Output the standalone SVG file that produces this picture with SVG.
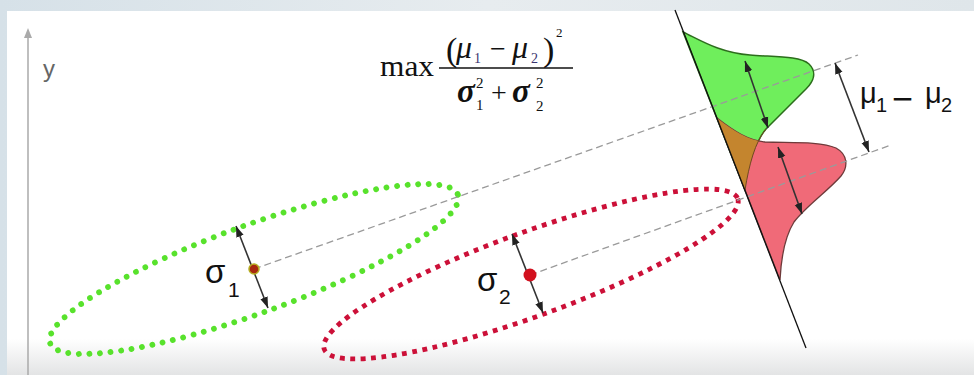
<svg xmlns="http://www.w3.org/2000/svg" width="974" height="375" viewBox="0 0 974 375">
<defs>
  <linearGradient id="panelGrad" x1="0" y1="0" x2="0" y2="1">
    <stop offset="0" stop-color="#ffffff"/>
    <stop offset="0.9" stop-color="#ffffff"/>
    <stop offset="1" stop-color="#e3e4e5"/>
  </linearGradient>
  <linearGradient id="bgGrad" x1="0" y1="0" x2="1" y2="0">
    <stop offset="0" stop-color="#d6e1e8"/>
    <stop offset="0.5" stop-color="#e7ecef"/>
    <stop offset="1" stop-color="#dfe6ea"/>
  </linearGradient>
  <marker id="ah" viewBox="0 0 10 10" refX="10" refY="5" markerWidth="11" markerHeight="11" orient="auto-start-reverse" markerUnits="userSpaceOnUse">
    <path d="M0,1.5 L10,5 L0,8.5 Z" fill="#222"/>
  </marker>
  <clipPath id="greenClip">
    <path d="M683,32 C700,40 720,53 750,55 C775,57 800,56 809,64 C817,72 814,81 806,89 L766,129 C755,142 749,165 745,190 Z"/>
  </clipPath>
</defs>
<style>
  .gdots{fill:none;stroke:#58e22c;stroke-width:5.8;stroke-linecap:round;stroke-dasharray:0 10.6}
  .rdots{fill:none;stroke:#cc1038;stroke-width:4.8;stroke-dasharray:4.8 5.6}
  .dash{stroke:#9a9a9a;stroke-width:1.3;stroke-dasharray:7 4;fill:none}
  .arr{stroke:#333;stroke-width:1.6;fill:none;marker-start:url(#ah);marker-end:url(#ah)}
  .serif{font-family:"Liberation Serif","Times New Roman",serif;fill:#111}
  .sans{font-family:"Liberation Sans",Arial,sans-serif;fill:#111}
</style>

<!-- background frame and panel -->
<rect x="0" y="0" width="974" height="375" fill="url(#bgGrad)"/>
<rect x="7" y="11" width="967" height="364" fill="url(#panelGrad)"/>

<!-- axis -->
<g id="axis">
  <line x1="28" y1="36" x2="28" y2="375" stroke="#aaaaaa" stroke-width="1.5"/>
  <path d="M28,28 L24,38 L32,38 Z" fill="#aaaaaa"/>
  <text class="sans" x="43" y="77" font-size="24" style="fill:#666666">y</text>
</g>

<!-- formula -->
<g id="formula">
  <text class="serif" x="380" y="76" font-size="30" textLength="54" lengthAdjust="spacingAndGlyphs">max</text>
  <text class="serif" x="446" y="61" font-size="34">(</text>
  <text class="serif" x="456" y="58" font-size="32" font-style="italic">μ</text>
  <text class="serif" x="474" y="63" font-size="14" style="fill:#3b3570">1</text>
  <text class="serif" x="490" y="58" font-size="28">−</text>
  <text class="serif" x="512" y="58" font-size="32" font-style="italic">μ</text>
  <text class="serif" x="531" y="63" font-size="14" style="fill:#3b3570">2</text>
  <text class="serif" x="543" y="61" font-size="34">)</text>
  <text class="serif" x="556" y="37" font-size="13">2</text>
  <line x1="439" y1="68" x2="573" y2="68" stroke="#111" stroke-width="1.5"/>
  <text class="serif" x="457" y="102" font-size="33" font-style="italic" font-weight="bold">σ</text>
  <text class="serif" x="476" y="88" font-size="15">2</text>
  <text class="serif" x="476" y="110" font-size="15">1</text>
  <text class="serif" x="491" y="102" font-size="28">+</text>
  <text class="serif" x="512" y="102" font-size="33" font-style="italic" font-weight="bold">σ</text>
  <text class="serif" x="536" y="88" font-size="15">2</text>
  <text class="serif" x="536" y="111" font-size="15">2</text>
</g>

<!-- class 1 ellipse -->
<g id="ellipse-class1">
  <ellipse class="gdots" cx="254" cy="269" rx="217" ry="44" transform="rotate(-20 254 269)"/>
</g>

<!-- class 2 ellipse -->
<g id="ellipse-class2">
  <ellipse class="rdots" cx="531" cy="274" rx="220" ry="42" transform="rotate(-20 531 274)"/>
</g>

<!-- projected distributions -->
<g id="distributions">
  <path id="dist-green" d="M683,32 C700,40 720,53 750,55 C775,57 800,56 809,64 C817,72 814,81 806,89 L766,129 C755,142 749,165 745,190 Z" fill="#6fee5c" stroke="#2c6e1c" stroke-width="1.5"/>
  <path id="dist-red" d="M717,118 C735,132 748,140 765,142 C790,143 820,141 836,148 C847,154 849,166 841,176 C828,191 806,206 794,222 C784,238 781,260 780,280 Z" fill="#f06a78" stroke="#6e3a3a" stroke-width="1.3"/>
  <path d="M717,118 C735,132 748,140 765,142 C790,143 820,141 836,148 C847,154 849,166 841,176 C828,191 806,206 794,222 C784,238 781,260 780,280 Z" fill="#c4852e" clip-path="url(#greenClip)"/>
  <path d="M766,129 C755,142 749,165 745,190" fill="none" stroke="#6e4a20" stroke-width="1"/>
</g>

<!-- connectors -->
<g id="connectors">
  <line class="dash" x1="254" y1="269" x2="858" y2="55"/>
  <line class="dash" x1="530" y1="275" x2="891" y2="145"/>
  <line x1="675" y1="10" x2="806" y2="348" stroke="#111" stroke-width="1.3"/>
  <line class="arr" x1="236" y1="226" x2="268" y2="308"/>
  <line class="arr" x1="512" y1="234" x2="543" y2="313"/>
  <line class="arr" x1="745" y1="61" x2="768" y2="128"/>
  <line class="arr" x1="778" y1="147" x2="802" y2="214"/>
  <line class="arr" x1="835" y1="63" x2="869" y2="152"/>
</g>

<!-- centre points -->
<g id="mean-class1">
  <circle cx="254" cy="269" r="5" fill="#a8280f" stroke="#b5ad22" stroke-width="1.5"/>
</g>
<g id="mean-class2">
  <circle cx="530" cy="275" r="6.5" fill="#d2101e"/>
</g>

<!-- labels -->
<g id="label-sigma1">
  <text class="sans" x="205" y="283" font-size="33">σ</text>
  <text class="sans" x="228" y="297" font-size="21">1</text>
</g>
<g id="label-sigma2">
  <text class="sans" x="477" y="291" font-size="33">σ</text>
  <text class="sans" x="499" y="304" font-size="21">2</text>
</g>
<g id="label-mu">
  <text class="sans" x="860" y="103" font-size="29">μ</text>
  <text class="sans" x="876" y="112" font-size="20">1</text>
  <text class="sans" x="892" y="111" font-size="36">−</text>
  <text class="sans" x="925" y="103" font-size="29">μ</text>
  <text class="sans" x="941" y="112" font-size="20">2</text>
</g>
</svg>
